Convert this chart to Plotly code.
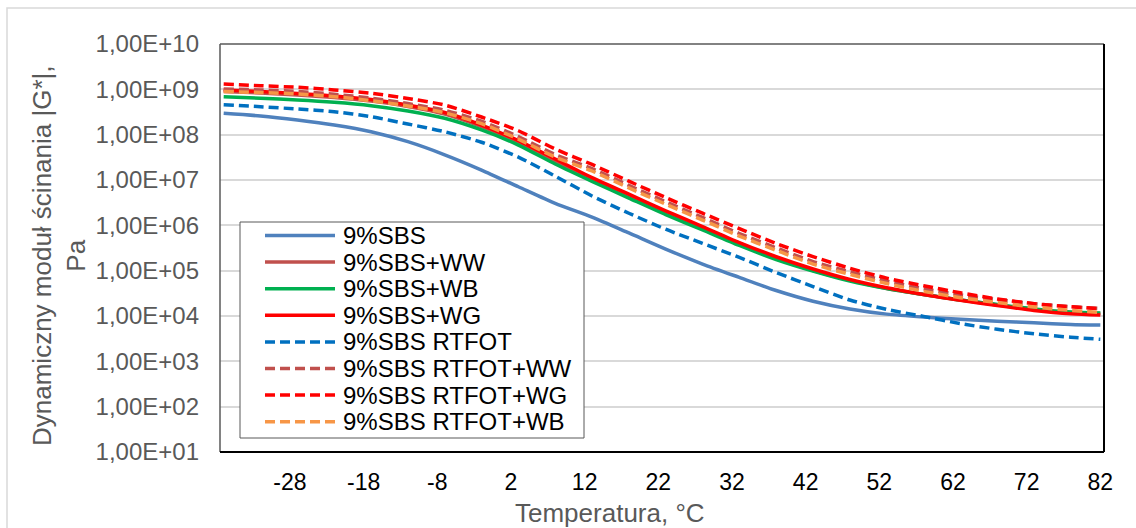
import plotly.graph_objects as go

# ---------------- data ----------------
temps = [-37, -32, -27, -22, -17, -12, -7, -2, 3, 8, 13, 18, 23, 28, 33, 38,
         43, 48, 53, 58, 63, 68, 73, 78, 82]

sbs = [2.96e8, 2.58e8, 2.1e8, 1.63e8, 1.16e8, 7.0e7, 3.6e7, 1.66e7, 7.1e6, 3.06e6,
       1.52e6, 6.8e5, 3.0e5, 1.4e5, 7.1e4, 3.65e4, 2.12e4, 1.43e4, 1.1e4, 9.5e3,
       8.5e3, 7.7e3, 7.1e3, 6.5e3, 6.3e3]
sbs_ww = [8.95e8, 8.3e8, 7.5e8, 6.6e8, 5.5e8, 4.2e8, 2.86e8, 1.51e8, 6.9e7, 2.62e7,
          1.03e7, 4.4e6, 1.89e6, 8.5e5, 3.78e5, 1.85e5, 1.01e5, 6.1e4, 4.04e4, 2.98e4,
          2.25e4, 1.75e4, 1.39e4, 1.19e4, 1.13e4]
sbs_wb = [6.88e8, 6.34e8, 5.82e8, 5.18e8, 4.36e8, 3.33e8, 2.3e8, 1.27e8, 5.9e7, 2.25e7,
          9.3e6, 4.0e6, 1.73e6, 7.9e5, 3.59e5, 1.76e5, 9.8e4, 5.9e4, 4.04e4, 2.98e4,
          2.25e4, 1.79e4, 1.43e4, 1.22e4, 1.16e4]
sbs_wg = [9.66e8, 8.95e8, 8.09e8, 7.13e8, 5.97e8, 4.51e8, 3.08e8, 1.63e8, 7.4e7, 2.9e7,
          1.13e7, 4.86e6, 2.09e6, 9.4e5, 4.18e5, 2.03e5, 1.09e5, 6.4e4, 4.2e4, 2.99e4,
          2.22e4, 1.7e4, 1.33e4, 1.12e4, 1.05e4]
rtfot = [4.58e8, 4.14e8, 3.68e8, 3.21e8, 2.49e8, 1.72e8, 1.16e8, 6.8e7, 3.2e7, 1.22e7,
         4.45e6, 1.85e6, 8.2e5, 4.0e5, 1.96e5, 9.1e4, 4.47e4, 2.25e4, 1.4e4, 9.8e3,
         6.8e3, 5.1e3, 4.05e3, 3.4e3, 3.06e3]
rtfot_ww = [1.02e9, 9.7e8, 8.95e8, 7.8e8, 6.4e8, 4.86e8, 3.46e8, 1.98e8, 9.1e7, 3.65e7,
            1.79e7, 7.6e6, 3.32e6, 1.49e6, 6.6e5, 3.19e5, 1.59e5, 9.4e4, 5.9e4, 4.0e4,
            2.93e4, 2.31e4, 1.87e4, 1.6e4, 1.48e4]
rtfot_wg = [1.31e9, 1.2e9, 1.11e9, 9.7e8, 8.2e8, 6.3e8, 4.5e8, 2.45e8, 1.22e8, 4.83e7,
            2.2e7, 9.4e6, 4.11e6, 1.85e6, 8.5e5, 3.97e5, 2.04e5, 1.13e5, 6.85e4, 4.66e4,
            3.25e4, 2.38e4, 1.87e4, 1.6e4, 1.45e4]
rtfot_wb = [8.95e8, 8.5e8, 7.9e8, 6.9e8, 5.6e8, 4.3e8, 3.05e8, 1.75e8, 8.0e7, 3.2e7,
            1.58e7, 6.7e6, 2.92e6, 1.31e6, 5.8e5, 2.81e5, 1.4e5, 8.3e4, 5.2e4, 3.5e4,
            2.54e4, 1.98e4, 1.58e4, 1.33e4, 1.2e4]

names = ["9%SBS", "9%SBS+WW", "9%SBS+WB", "9%SBS+WG", "9%SBS RTFOT",
         "9%SBS RTFOT+WW", "9%SBS RTFOT+WG", "9%SBS RTFOT+WB"]
series = [sbs, sbs_ww, sbs_wb, sbs_wg, rtfot, rtfot_ww, rtfot_wg, rtfot_wb]
colors = ["#4f81bd", "#c0504d", "#00b050", "#ff0000", "#0070c0",
          "#c0504d", "#ff0000", "#f79646"]
DASH = "10px,5px"
dashes = ["solid", "solid", "solid", "solid", DASH, DASH, DASH, DASH]

x_ticks = [-28, -18, -8, 2, 12, 22, 32, 42, 52, 62, 72, 82]
y_ticks = [10 ** k for k in range(1, 11)]
y_ticktext = ["1,00E+%02d" % k for k in range(1, 11)]

# ---------------- layout geometry (pixels) ----------------
W, H = 1136, 528
L, R, T, B = 220, 1104, 44, 452
PW, PH = R - L, B - T


def px(x):
    return (x - L) / PW


def py(y):
    return (B - y) / PH


FONT = "Liberation Sans, Arial, sans-serif"
LW = 3.5

fig = go.Figure()
for name, vals, col, dsh in zip(names, series, colors, dashes):
    fig.add_trace(go.Scatter(
        x=temps, y=vals, name=name, mode="lines",
        line=dict(color=col, width=LW, dash=dsh, shape="spline", smoothing=0.7),
        showlegend=False))

shapes = []
# outer chart frame
shapes.append(dict(type="rect", xref="paper", yref="paper", layer="below",
                   x0=px(7), x1=px(1170), y0=py(8), y1=py(570),
                   line=dict(color="#d9d9d9", width=1.5)))
# plot border
shapes.append(dict(type="line", xref="paper", yref="paper", x0=0, x1=1, y0=1, y1=1,
                   line=dict(color="#595959", width=1.5)))
shapes.append(dict(type="line", xref="paper", yref="paper", x0=0, x1=0, y0=0, y1=1,
                   line=dict(color="#595959", width=1.5)))
shapes.append(dict(type="line", xref="paper", yref="paper", x0=0, x1=1, y0=0, y1=0,
                   line=dict(color="#000000", width=2)))
shapes.append(dict(type="line", xref="paper", yref="paper", x0=1, x1=1, y0=0, y1=1,
                   line=dict(color="#000000", width=2)))

# legend box (drawn manually to match Excel's compact legend)
shapes.append(dict(type="rect", xref="paper", yref="paper", layer="above",
                   x0=px(240), x1=px(584), y0=py(438), y1=py(222),
                   fillcolor="white", line=dict(color="#595959", width=1)))
annotations = []
for i, (name, col, dsh) in enumerate(zip(names, colors, dashes)):
    yc = 235.5 + i * 26.6
    shapes.append(dict(type="line", xref="paper", yref="paper", layer="above",
                       x0=px(265), x1=px(335), y0=py(yc), y1=py(yc),
                       line=dict(color=col, width=LW, dash=dsh)))
    annotations.append(dict(xref="paper", yref="paper", x=px(341), y=py(yc),
                            xanchor="left", yanchor="middle", showarrow=False,
                            text=name, font=dict(family=FONT, size=24, color="#000000")))

# axis titles
annotations.append(dict(xref="paper", yref="paper", x=px(610), y=py(513),
                        xanchor="center", yanchor="middle", showarrow=False,
                        text="Temperatura, °C",
                        font=dict(family=FONT, size=26, color="#595959")))
annotations.append(dict(xref="paper", yref="paper", x=px(59), y=py(256),
                        xanchor="center", yanchor="middle", showarrow=False,
                        textangle=-90,
                        text="Dynamiczny moduł ścinania |G*|,<br>Pa",
                        font=dict(family=FONT, size=26, color="#595959")))

fig.update_layout(
    width=W, height=H,
    margin=dict(l=L, r=W - R, t=T, b=H - B, pad=0),
    paper_bgcolor="white", plot_bgcolor="white",
    font=dict(family=FONT),
    showlegend=False,
    shapes=shapes, annotations=annotations,
    xaxis=dict(range=[-37.5, 82.5], tickmode="array", tickvals=x_ticks,
               ticktext=[str(t) for t in x_ticks], showgrid=False, zeroline=False,
               showline=False, ticks="", ticklabelstandoff=14,
               tickfont=dict(family=FONT, size=23, color="#000000")),
    yaxis=dict(type="log", range=[1, 10], tickmode="array", tickvals=y_ticks,
               ticktext=y_ticktext, showgrid=True, gridcolor="#d9d9d9", gridwidth=1.5,
               zeroline=False, showline=False, ticks="", ticklabelstandoff=20,
               tickfont=dict(family=FONT, size=24, color="#595959")),
)

fig.write_html("out.html")
